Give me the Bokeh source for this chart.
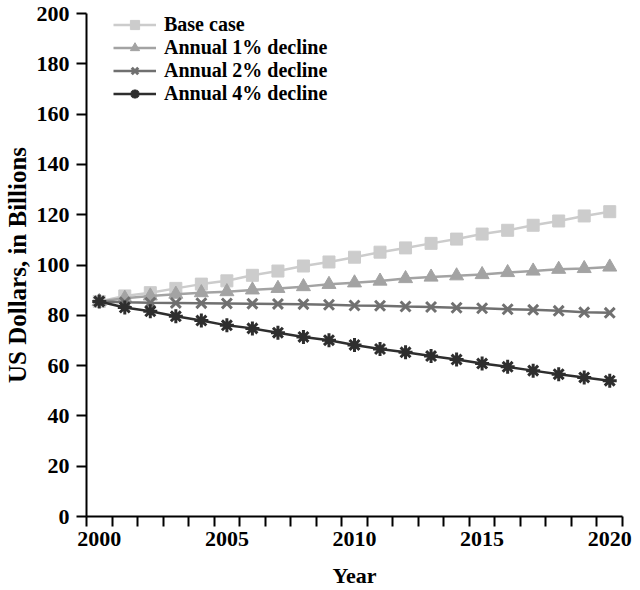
from bokeh.plotting import figure
from bokeh.models import Range1d, FixedTicker, Legend, LegendItem
from bokeh.embed import file_html
from bokeh.resources import INLINE

years = list(range(2000, 2021))
base_case = [85.5, 87.7, 89.0, 90.7, 92.4, 93.7, 95.9, 97.6, 99.6, 101.2, 103.1,
             105.1, 106.8, 108.6, 110.3, 112.3, 113.8, 115.8, 117.5, 119.5, 121.2]
decline_1 = [85.5, 86.8, 87.7, 88.4, 89.0, 89.4, 90.1, 90.7, 91.4, 92.3, 92.9,
             93.6, 94.6, 95.2, 95.7, 96.2, 97.0, 97.6, 98.3, 98.6, 99.2]
decline_2 = [85.5, 85.2, 85.0, 84.9, 84.8, 84.7, 84.6, 84.5, 84.4, 84.2, 83.9,
             83.8, 83.5, 83.3, 83.0, 82.8, 82.4, 82.2, 81.8, 81.2, 81.0]
decline_4 = [85.5, 83.1, 81.6, 79.6, 77.9, 76.0, 74.8, 73.1, 71.4, 70.1, 68.2,
             66.6, 65.3, 63.8, 62.4, 60.8, 59.5, 58.0, 56.6, 55.3, 54.0]
series_labels = ["Base case", "Annual 1% decline", "Annual 2% decline", "Annual 4% decline"]
x_tick_labels = [2000, 2005, 2010, 2015, 2020]
y_ticks = list(range(0, 201, 20))

FONT = "Liberation Serif"
W, H = 632, 590
BT, BB = 13, 72

p = figure(width=W, height=H, output_backend="svg", toolbar_location=None,
           x_range=Range1d(1999.5, 2020.5), y_range=Range1d(0, 200),
           min_border_top=BT, min_border_left=77, min_border_right=10, min_border_bottom=BB)
p.outline_line_color = None
p.xgrid.grid_line_color = None
p.ygrid.grid_line_color = None
p.background_fill_color = "white"
p.border_fill_color = "white"

styles = [
    (base_case, "#cccccc", "square", 12, 1),
    (decline_1, "#a3a3a3", "triangle", 14, 1),
    (decline_2, "#707070", "x", 14, 3),
    (decline_4, "#2e2e2e", "asterisk", 14, 3),
]
items = []
for (vals, col, mk, sz, lw), lab in zip(styles, series_labels):
    r1 = p.line(years, vals, line_color=col, line_width=2.5)
    r2 = p.scatter(years, vals, marker=mk, size=sz, fill_color=col, line_color=col, line_width=lw)
    items.append(LegendItem(label=lab, renderers=[r1, r2]))

frame_h = H - BT - BB
legend = Legend(items=items, location=(27, frame_h - 4 * 23.4), padding=0, margin=0, spacing=0,
                glyph_width=43, glyph_height=23, label_height=23, label_standoff=8,
                label_text_font=FONT, label_text_font_style="bold", label_text_font_size="20px",
                label_text_color="black",
                border_line_color=None, background_fill_alpha=0)
p.add_layout(legend, "center")

# x axis
xa = p.xaxis[0]
xa.ticker = FixedTicker(ticks=x_tick_labels, minor_ticks=[1999.5 + i for i in range(22)])
xa.major_tick_line_color = None
xa.major_tick_out = 10
xa.major_tick_in = 0
xa.minor_tick_out = 10
xa.minor_tick_in = 0
xa.minor_tick_line_color = "black"
xa.minor_tick_line_width = 2
xa.axis_line_color = "black"
xa.axis_line_width = 2
xa.major_label_standoff = 5
xa.major_label_text_font = FONT
xa.major_label_text_font_style = "bold"
xa.major_label_text_font_size = "22px"
xa.major_label_text_color = "black"
xa.axis_label = "Year"
xa.axis_label_text_font = FONT
xa.axis_label_text_font_style = "bold"
xa.axis_label_text_font_size = "22px"
xa.axis_label_text_color = "black"
xa.axis_label_standoff = 14

# y axis
ya = p.yaxis[0]
ya.ticker = FixedTicker(ticks=y_ticks, minor_ticks=[])
ya.major_tick_out = 10
ya.major_tick_in = 0
ya.major_tick_line_color = "black"
ya.major_tick_line_width = 2
ya.minor_tick_line_color = None
ya.axis_line_color = "black"
ya.axis_line_width = 2
ya.major_label_standoff = 7
ya.major_label_text_font = FONT
ya.major_label_text_font_style = "bold"
ya.major_label_text_font_size = "22px"
ya.major_label_text_color = "black"
ya.axis_label = "US Dollars, in Billions"
ya.axis_label_text_font = FONT
ya.axis_label_text_font_style = "bold"
ya.axis_label_text_font_size = "25px"
ya.axis_label_text_color = "black"
ya.axis_label_standoff = 3

open("out.html", "w").write(file_html(p, INLINE))
